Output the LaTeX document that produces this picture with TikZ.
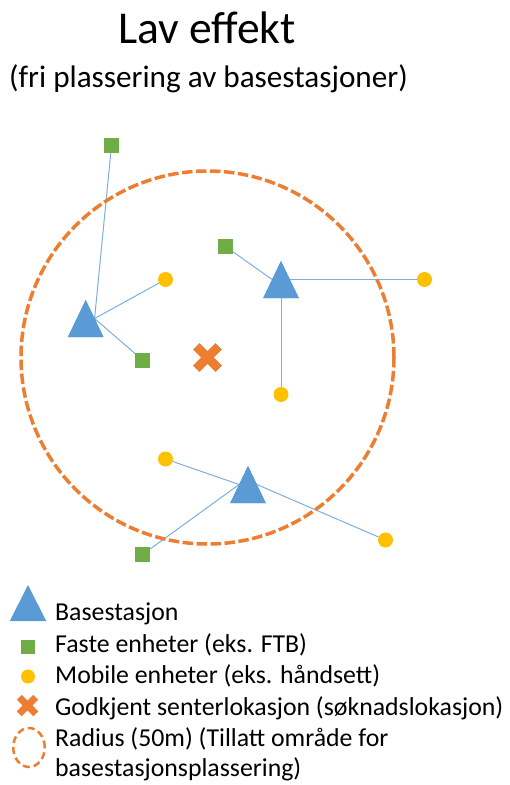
\documentclass[tikz,border=0pt]{standalone}
\usepackage{fontspec}
\setmainfont{Carlito}
\usetikzlibrary{shapes.geometric,shapes.misc}
\definecolor{bsblue}{HTML}{5B9BD5}
\definecolor{linkblue}{HTML}{7EAEDD}
\definecolor{fixgreen}{HTML}{70AD47}
\definecolor{mobyellow}{HTML}{FFC000}
\definecolor{xorange}{HTML}{ED7D31}
\begin{document}
\begin{tikzpicture}[x=1pt,y=-1pt,
  bs/.style={isosceles triangle, isosceles triangle stretches, shape border rotate=90,
    fill=bsblue, inner sep=0pt, outer sep=0pt, minimum width=35.5pt, minimum height=37pt, anchor=apex},
  fixunit/.style={rectangle, fill=fixgreen, inner sep=0pt, outer sep=0pt, minimum size=15pt},
  mobunit/.style={circle, fill=mobyellow, inner sep=0pt, outer sep=0pt, minimum size=15pt},
  centermark/.style={cross out, draw=xorange, line width=9pt, inner sep=0pt, outer sep=0pt, minimum size=22.5pt},
  link/.style={draw=linkblue, line width=1pt},
  ring/.style={draw=xorange, line width=3.5pt, dash pattern=on 10.5pt off 3.5pt},
  legtext/.style={anchor=base west, inner sep=0pt, font=\fontsize{25.8}{30}\selectfont}
]
\useasboundingbox (0,0) rectangle (510,785);

% titles
\node[anchor=base, inner sep=0pt, font=\fontsize{45.6}{52}\selectfont] (title) at (207,43) {Lav effekt};
\node[anchor=base west, inner sep=0pt, font=\fontsize{31.2}{36}\selectfont] (subtitle) at (9,87) {(fri plassering av basestasjoner)};

% devices
\node[fixunit] (s1) at (111.5,145.5) {};
\node[fixunit] (s2) at (142.5,360) {};
\node[fixunit] (s3) at (225.5,246.5) {};
\node[fixunit] (s4) at (142.5,554.5) {};
\node[mobunit] (c1) at (165.5,279.5) {};
\node[mobunit] (c2) at (424.5,279.5) {};
\node[mobunit] (c3) at (281,394.5) {};
\node[mobunit] (c4) at (165.5,459) {};
\node[mobunit] (c5) at (385.5,540) {};

% centre and allowed area
\node[centermark] (centre) at (207.5,357.5) {};
\node[circle, minimum size=374pt, inner sep=0pt] (area) at (centre) {};

% base stations
\node[bs] (b1) at (85.7,300) {};
\node[bs] (b2) at (281,261) {};
\node[bs] (b3) at (248,466) {};

% links
\draw[link] (b1.right side) -- (s1);
\draw[link] (b1.right side) -- (c1);
\draw[link] (b1.right side) -- (s2);
\draw[link] (s3) -- (b2.left side);
\draw[link] (b2.right side) -- (c2);
\draw[link] (b2.lower side) -- (c3);
\draw[link] (c4) -- (b3.left side);
\draw[link] (b3.right side) -- (c5);
\draw[link] (s4) -- (b3.left side);

\draw[ring] (area.center) circle[radius=186.5pt];

% redraw triangles on top
\node[bs] at (85.7,300) {};
\node[bs] at (281,261) {};
\node[bs] at (248,466) {};

% legend
\node[bs, minimum width=36.5pt, minimum height=36pt] (lg1) at (28,585) {};
\node[fixunit, minimum size=14pt] (lg2) at (28.3,646.5) {};
\node[mobunit, minimum size=14pt] (lg3) at (28,676.5) {};
\node[centermark, line width=7pt, minimum size=16.5pt] (lg4) at (27.5,705.5) {};
\node[ellipse, minimum width=31.5pt, minimum height=39pt, inner sep=0pt, draw=xorange, line width=2.5pt, dash pattern=on 7pt off 4pt] (lg5) at (29,747.5) {};

\node[legtext] (t1) at (55,620.5) {Basestasjon};
\node[legtext] (t2) at (55,652.5) {Faste enheter (eks. FTB)};
\node[legtext] (t3) at (55,683) {Mobile enheter (eks. håndsett)};
\node[legtext] (t4) at (55,715) {Godkjent senterlokasjon (søknadslokasjon)};
\node[legtext] (t5) at (55,746.5) {Radius (50m) (Tillatt område for};
\node[legtext] (t6) at (55,776.5) {basestasjonsplassering)};
\end{tikzpicture}
\end{document}
